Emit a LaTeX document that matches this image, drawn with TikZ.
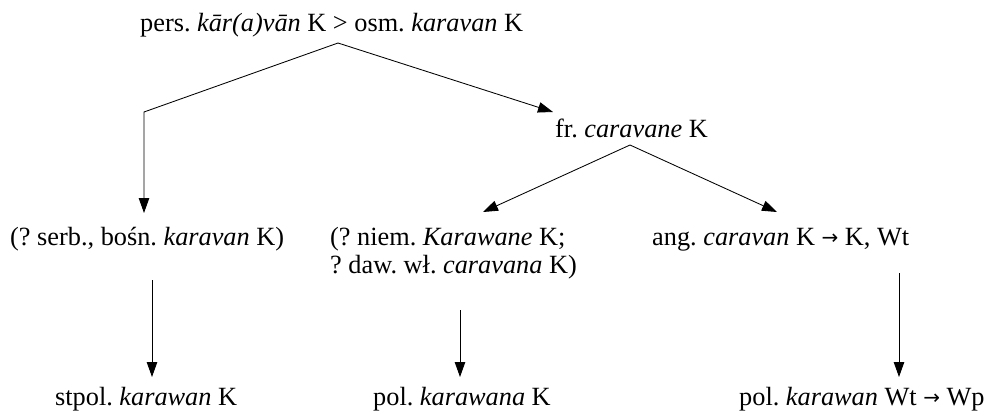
\documentclass[tikz,border=0pt]{standalone}
\usepackage{fontspec}
\setmainfont{Liberation Serif}
\newfontfamily\arrfont{DejaVu Sans}
\usetikzlibrary{arrows.meta}
\newcommand\tarr{\raisebox{1pt}{\arrfont\fontsize{20}{20}\selectfont →}}
\frenchspacing
\begin{document}
\begin{tikzpicture}[x=1pt,y=-1pt,
  lbl/.style={inner sep=0pt,anchor=base west,font=\fontsize{26.3}{28}\selectfont},
  conn/.style={line width=0.85pt,-{Triangle[length=15pt,width=10.5pt]}}]
\useasboundingbox[fill=white] (0,0) rectangle (993,413);
\node[lbl] (top) at (140,31) {pers. \textit{kār(a)vān} K > osm. \textit{karavan} K};
\node[lbl] (fr) at (555,137) {fr. \textit{caravane} K};
\node[lbl] (serb) at (10,245) {(? serb., bośn. \textit{karavan} K)};
\node[lbl,align=left] (niem) at (330,273) {(? niem. \textit{Karawane} K;\\? daw. wł. \textit{caravana} K)};
\node[lbl] (ang) at (652,245) {ang. \textit{caravan} K \tarr{} K, Wt};
\node[lbl] (stpol) at (55,405) {stpol. \textit{karawan} K};
\node[lbl] (polA) at (373,405) {pol. \textit{karawana} K};
\node[lbl] (polB) at (739,405) {pol. \textit{karawan} Wt \tarr{} Wp};
\coordinate (tA) at (338,43);
\coordinate (cL) at (144,112);
\coordinate (tL) at (144,213);
\coordinate (tR) at (553,112);
\coordinate (fA) at (630,145);
\coordinate (fL) at (483,212);
\coordinate (fR) at (777,212);
\draw[conn] (tA) -- (cL) -- (tL);
\draw[conn] (tA) -- (tR);
\draw[conn] (fA) -- (fL);
\draw[conn] (fA) -- (fR);
\draw[conn] (152,280) -- (152,377);
\draw[conn] (460,310) -- (460,377);
\draw[conn] (899,273) -- (899,377);
\end{tikzpicture}
\end{document}
